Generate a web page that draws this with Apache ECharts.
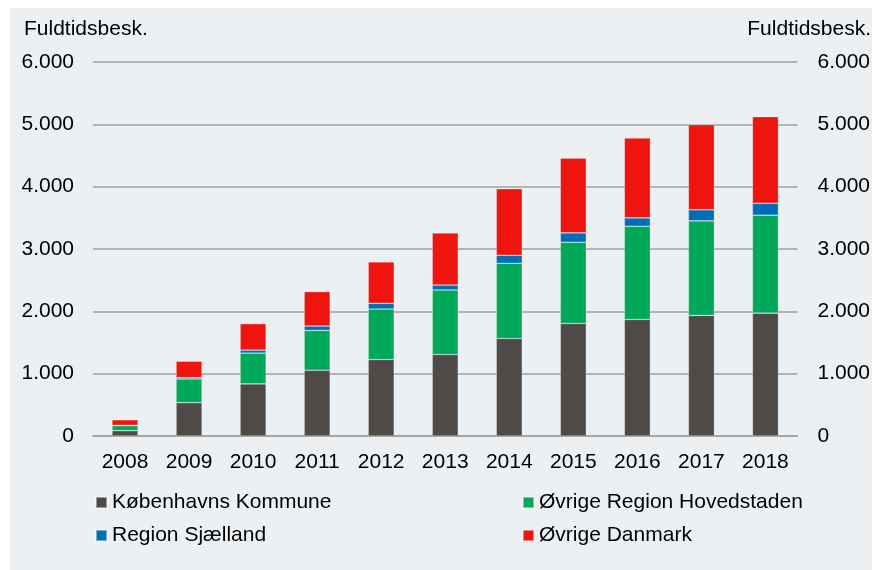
<!DOCTYPE html>
<html>
<head>
<meta charset="utf-8">
<script src="https://cdn.jsdelivr.net/npm/echarts@6/dist/echarts.min.js"></script>
<style>
  html, body { margin: 0; padding: 0; background: #fff; }
  #chart { width: 873px; height: 570px; }
</style>
</head>
<body>
<div id="chart"></div>
<script>
var years = ['2008', '2009', '2010', '2011', '2012', '2013', '2014', '2015', '2016', '2017', '2018'];
var kbhKommune = [85, 535, 836, 1056, 1227, 1308, 1565, 1806, 1870, 1935, 1972];
var ovrHovedstaden = [80, 380, 494, 638, 810, 1034, 1206, 1302, 1495, 1517, 1570];
var sjaelland = [5, 20, 48, 70, 91, 80, 129, 150, 134, 177, 193];
var ovrDanmark = [90, 265, 423, 552, 665, 836, 1066, 1200, 1281, 1367, 1388];
var yTicks = [0, 1000, 2000, 3000, 4000, 5000, 6000];

var font = "'Liberation Sans', Arial, sans-serif";

// dansk tusindtalsseparator
function fmt(v) {
	return String(v).replace(/\B(?=(\d{3})+(?!\d))/g, '.');
}

var chart = echarts.init(document.getElementById('chart'));

function bar(name, data, color) {
	return {
		name: name,
		type: 'bar',
		stack: 'total',
		barWidth: 26,
		data: data,
		itemStyle: { color: color, borderColor: 'rgba(255,255,255,0.45)', borderWidth: 0.6 }
	};
}

var axisLabel = { color: '#000', fontSize: 21, fontFamily: font, formatter: fmt };

function legend(left, names) {
	return {
		orient: 'vertical', left: left, top: 492, itemGap: 12, padding: 0,
		itemWidth: 11, itemHeight: 11, icon: 'rect',
		textStyle: { color: '#000', fontSize: 21, fontFamily: font },
		data: names
	};
}

chart.setOption({
	animation: false,
	graphic: [
		{ type: 'rect', shape: { x: 10, y: 8, width: 862, height: 562 }, style: { fill: '#ECF0F3' }, z: -10 },
		{ type: 'text', left: 24, top: 19, style: { text: 'Fuldtidsbesk.', fill: '#000', font: '21px ' + font } },
		{ type: 'text', right: 2, top: 19, style: { text: 'Fuldtidsbesk.', fill: '#000', font: '21px ' + font } }
	],
	grid: { left: 93, right: 73, top: 62, bottom: 134 },
	legend: [
		legend(95, ['Københavns Kommune', 'Region Sjælland']),
		legend(522, ['Øvrige Region Hovedstaden', 'Øvrige Danmark'])
	],
	xAxis: {
		type: 'category',
		data: years,
		axisTick: { show: false },
		axisLine: { lineStyle: { color: '#A0A0A0', width: 1.5 } },
		axisLabel: { color: '#000', fontSize: 21, fontFamily: font, margin: 16 }
	},
	yAxis: [
		{
			type: 'value', min: yTicks[0], max: yTicks[yTicks.length - 1], interval: 1000,
			axisLine: { show: false }, axisTick: { show: false },
			splitLine: { lineStyle: { color: '#A0A0A0', width: 1.5 } },
			axisLabel: Object.assign({ margin: 19 }, axisLabel)
		},
		{
			type: 'value', position: 'right', min: yTicks[0], max: yTicks[yTicks.length - 1], interval: 1000,
			axisLine: { show: false }, axisTick: { show: false }, splitLine: { show: false },
			axisLabel: Object.assign({ margin: 20 }, axisLabel)
		}
	],
	series: [
		bar('Københavns Kommune', kbhKommune, '#4E4A47'),
		bar('Øvrige Region Hovedstaden', ovrHovedstaden, '#00A85A'),
		bar('Region Sjælland', sjaelland, '#006EB7'),
		bar('Øvrige Danmark', ovrDanmark, '#F0140F')
	]
});
</script>
</body>
</html>
